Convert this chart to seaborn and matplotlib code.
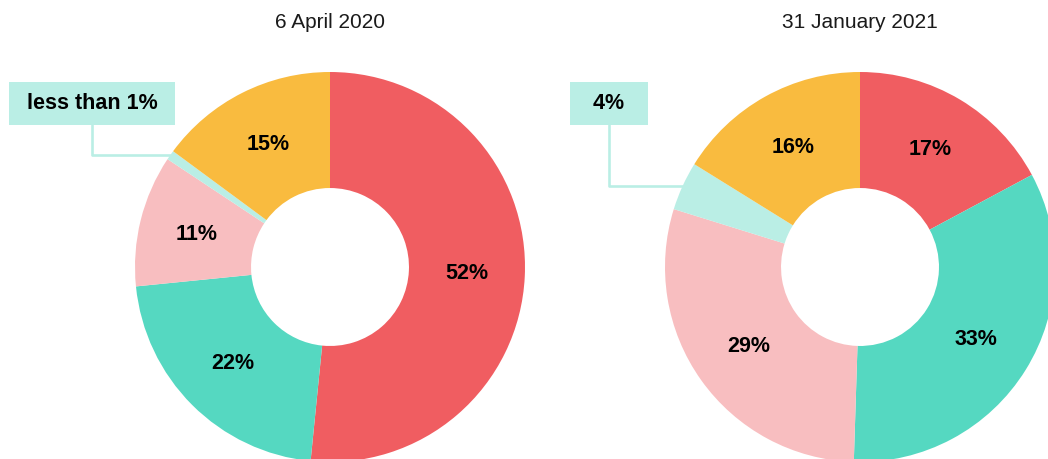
# Two donut charts: share of responses, April 2020 vs January 2021
import seaborn as sns
import matplotlib.pyplot as plt
import numpy as np

sns.set_style("white")
plt.rcParams["font.family"] = ["Liberation Sans", "DejaVu Sans"]

titles = ["6 April 2020", "31 January 2021"]
# clockwise from 12 o'clock: red, teal, pink, light teal, yellow
values_2020 = [52, 22, 11, 0.8, 15]
values_2021 = [17, 33, 29, 4, 16]
labels_2020 = ["52%", "22%", "11%", "less than 1%", "15%"]
labels_2021 = ["17%", "33%", "29%", "4%", "16%"]
colors = ["#F05D61", "#55D8C1", "#F8BEC0", "#BAEEE5", "#F9BB3F"]

W, H = 1048, 459
R = 195          # outer radius in pixels
CY = 267         # donut centre (pixels from top)
HOLE = 0.405     # inner radius / outer radius

fig = plt.figure(figsize=(W / 100, H / 100), dpi=100)

panels = [
    (0, 530, 330, values_2020, labels_2020, titles[0], 92, " less than 1% "),
    (530, W, 860, values_2021, labels_2021, titles[1], 609, "  4%  "),
]

for x0, x1, cx, vals, labs, title, box_x, small_lab in panels:
    ax = fig.add_axes([x0 / W, 0, (x1 - x0) / W, 1])
    wedges, _ = ax.pie(vals, colors=colors, startangle=90, counterclock=False,
                       radius=1, wedgeprops=dict(width=1 - HOLE, linewidth=0))
    ax.set_xlim((x0 - cx) / R, (x1 - cx) / R)
    ax.set_ylim((CY - H) / R, CY / R)
    ax.set_aspect("auto")
    ax.axis("off")

    mid_r = (1 + HOLE) / 2
    for i, (w, lab) in enumerate(zip(wedges, labs)):
        ang = np.deg2rad((w.theta1 + w.theta2) / 2)
        if i == 3:
            ax.annotate(small_lab, xy=(np.cos(ang), np.sin(ang)),
                        xytext=((box_x - cx) / R, (CY - 103.5) / R),
                        ha="center", va="center", fontsize=15.5,
                        fontweight="bold", color="black",
                        bbox=dict(boxstyle="square,pad=0.52", fc=colors[3], ec="none"),
                        arrowprops=dict(arrowstyle="-", color=colors[3], lw=1.9,
                                        shrinkA=0, shrinkB=0,
                                        connectionstyle="angle,angleA=90,angleB=0,rad=0"),
                        annotation_clip=False)
        else:
            ax.text(mid_r * np.cos(ang), mid_r * np.sin(ang), lab,
                    ha="center", va="center", fontsize=15.5,
                    fontweight="bold", color="black")

    ax.text(0, (CY - 22) / R, title, ha="center", va="center",
            fontsize=15, color="#1a1a1a")

fig.savefig("out.png", dpi=100)
